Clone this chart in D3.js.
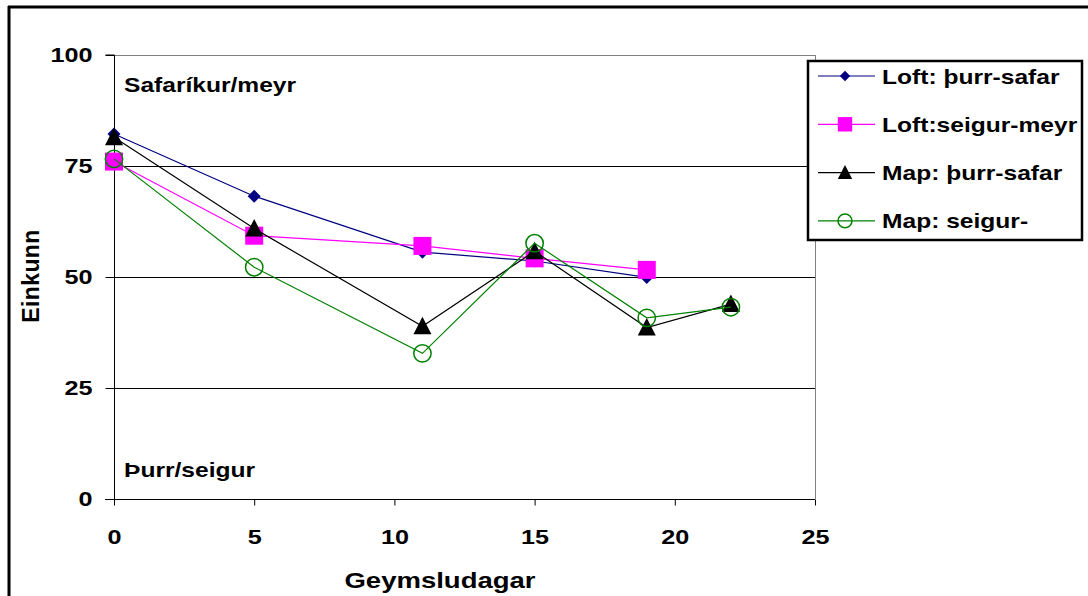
<!DOCTYPE html>
<html><head><meta charset="utf-8">
<script src="https://cdn.jsdelivr.net/npm/d3@7"></script>
<style>body{margin:0;background:#fff;} svg{display:block;font-family:Arial,"Liberation Sans",sans-serif;}</style>
</head><body>
<svg id="c" width="1088" height="596"></svg>
<script>
const xTicks = [0,5,10,15,20,25];
const yTicks = [0,25,50,75,100];
const seriesNames = ["Loft: þurr-safar","Loft:seigur-meyr","Map: þurr-safar","Map: seigur-"];
const loftThurrDays = [0,5,11,15,19];
const loftThurr = [82.2,68.2,55.6,53.6,49.9];
const loftSeigurDays = [0,5,11,15,19];
const loftSeigur = [76.0,59.3,57.0,54.2,51.6];
const mapThurrDays = [0,5,11,15,19,22];
const mapThurr = [81.5,60.9,38.9,55.8,38.6,43.9];
const mapSeigurDays = [0,5,11,15,19,22];
const mapSeigur = [76.6,52.2,32.8,57.6,40.8,43.2];

const FS = 21, K = 1.17;
const svg = d3.select("#c");
const L=114, R=815, T=55, B=499;
const x = d3.scaleLinear().domain([0,25]).range([L,R]);
const y = d3.scaleLinear().domain([0,100]).range([B,T]);

function styleText(sel, fs){
  return sel.attr("font-size",fs).attr("font-weight","bold").attr("fill","#000")
    .attr("font-family","Arial,'Liberation Sans',sans-serif");
}
// horizontally widen glyphs (reference text is stretched)
function stretch(sel, k){
  sel.each(function(){
    const w = this.getComputedTextLength();
    d3.select(this).attr("textLength", w*k).attr("lengthAdjust","spacingAndGlyphs");
  });
  return sel;
}

// outer frame (left and top only visible)
svg.append("line").attr("x1",9).attr("x2",9).attr("y1",6).attr("y2",596).attr("stroke","#000").attr("stroke-width",3);
svg.append("line").attr("x1",8).attr("x2",1088).attr("y1",7).attr("y2",7).attr("stroke","#000").attr("stroke-width",3);

// plot area border top/right grey
svg.append("line").attr("x1",L).attr("x2",R).attr("y1",T+0.5).attr("y2",T+0.5).attr("stroke","#808080");
svg.append("line").attr("x1",R+0.5).attr("x2",R+0.5).attr("y1",T).attr("y2",B).attr("stroke","#808080");

// gridlines
svg.append("g").selectAll("line").data([25,50,75]).join("line")
  .attr("x1",L).attr("x2",R).attr("y1",d=>Math.round(y(d))+0.5).attr("y2",d=>Math.round(y(d))+0.5)
  .attr("stroke","#000").attr("stroke-width",1);

// axes
const yAxis = d3.axisLeft(y).tickValues(yTicks).tickSize(9).tickPadding(13);
const gy = svg.append("g").attr("transform",`translate(${L+0.5},0)`).call(yAxis);
const xAxis = d3.axisBottom(x).tickValues(xTicks).tickSize(6).tickPadding(24);
const gx = svg.append("g").attr("transform",`translate(0,${B+0.5})`).call(xAxis);
[gy,gx].forEach(g=>{
  g.select(".domain").attr("stroke","#000");
  g.selectAll(".tick line").attr("stroke","#000");
  stretch(styleText(g.selectAll("text"), FS), 1.2);
});
gy.select(".domain").attr("d",`M-9,${T}H0V${B}`);
gx.select(".domain").attr("d",`M${L-9},0H${R}`);

// axis titles
stretch(styleText(svg.append("text").attr("x",440).attr("y",588).attr("text-anchor","middle"),22).text("Geymsludagar"),1.25);
styleText(svg.append("text").attr("transform","translate(39,276) rotate(-90)").attr("text-anchor","middle"),23).attr("letter-spacing",0.4).text("Einkunn");

// annotations
stretch(styleText(svg.append("text").attr("x",124).attr("y",92),FS).text("Safaríkur/meyr"),K);
stretch(styleText(svg.append("text").attr("x",124).attr("y",477),FS).text("Þurr/seigur"),K);

const series = [
  {name:seriesNames[0], days:loftThurrDays, vals:loftThurr, color:"#000080", marker:"diamond"},
  {name:seriesNames[1], days:loftSeigurDays, vals:loftSeigur, color:"#FF00FF", marker:"square"},
  {name:seriesNames[2], days:mapThurrDays, vals:mapThurr, color:"#000000", marker:"triangle"},
  {name:seriesNames[3], days:mapSeigurDays, vals:mapSeigur, color:"#008000", marker:"circle"}
];

function drawMarker(g, m, color, k){
  if(m==="diamond") g.append("path").attr("d",`M0,${-6.5*k}L${6.5*k},0L0,${6.5*k}L${-6.5*k},0Z`).attr("fill",color);
  else if(m==="square") g.append("rect").attr("x",-9*k).attr("y",-9*k).attr("width",18*k).attr("height",18*k).attr("fill",color);
  else if(m==="triangle") g.append("path").attr("d",`M0,${-9.5*k}L${9*k},${8*k}L${-9*k},${8*k}Z`).attr("fill",color);
  else g.append("circle").attr("r",8.7*k).attr("fill","none").attr("stroke",color).attr("stroke-width",1.5);
}

const line = d3.line().x(d=>x(d[0])).y(d=>y(d[1]));
series.forEach(s=>{
  const pts = s.days.map((d,i)=>[d,s.vals[i]]);
  svg.append("path").attr("d",line(pts)).attr("fill","none").attr("stroke",s.color).attr("stroke-width",1.2);
  s.days.forEach((d,i)=>{
    const g = svg.append("g").attr("transform",`translate(${x(d)},${y(s.vals[i])})`);
    drawMarker(g,s.marker,s.color,1);
  });
});

// legend
const lg = svg.append("g");
lg.append("rect").attr("x",808).attr("y",61).attr("width",274).attr("height",179).attr("fill","#fff").attr("stroke","#000").attr("stroke-width",2.5);
series.forEach((s,i)=>{
  const cy = 76 + i*48.3;
  lg.append("line").attr("x1",818).attr("x2",875).attr("y1",cy).attr("y2",cy).attr("stroke",s.color).attr("stroke-width",1.2);
  const g = lg.append("g").attr("transform",`translate(845,${cy})`);
  drawMarker(g,s.marker,s.color,0.8);
  stretch(styleText(lg.append("text").attr("x",882).attr("y",cy+7.5),FS).text(s.name),K);
});
</script>
</body></html>
